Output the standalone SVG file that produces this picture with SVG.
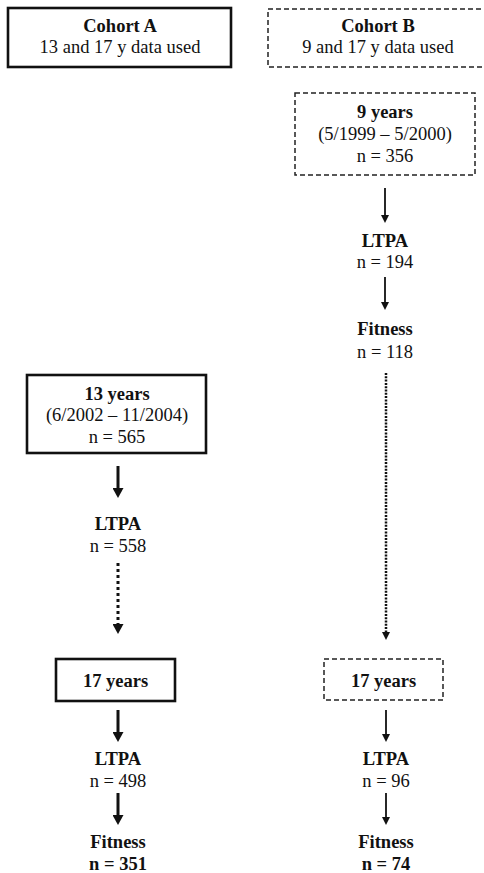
<svg xmlns="http://www.w3.org/2000/svg" width="484" height="873" viewBox="0 0 484 873">
<style>
  text { font-family: "Liberation Serif", "Times New Roman", serif; font-size: 18.5px; fill: #111; text-anchor: middle; }
  .b { font-weight: bold; }
  .solid { fill: #fff; stroke: #111; stroke-width: 2.6; }
  .dash { fill: #fff; stroke: #222; stroke-width: 1.5; stroke-dasharray: 5 3; }
  .thick { stroke: #111; stroke-width: 3; fill: none; }
  .thin { stroke: #111; stroke-width: 1.8; fill: none; }
  .dotA { stroke: #111; stroke-width: 3; stroke-dasharray: 3 3; fill: none; }
  .dotB { stroke: #111; stroke-width: 2.5; stroke-dasharray: 2 1.3; fill: none; }
</style>
<defs>
  <marker id="hThick" markerUnits="userSpaceOnUse" markerWidth="10" markerHeight="11" viewBox="0 0 10 11" refX="0" refY="5.5" orient="auto">
    <path d="M0,0 L10,5.5 L0,11 z" fill="#111"/>
  </marker>
  <marker id="hThin" markerUnits="userSpaceOnUse" markerWidth="8" markerHeight="8" viewBox="0 0 8 8" refX="0" refY="4" orient="auto">
    <path d="M0,0 L8,4 L0,8 z" fill="#111"/>
  </marker>
</defs>

<g id="cohortA">
  <rect class="solid" x="8" y="8" width="223" height="59"/>
  <text class="b" x="120" y="32">Cohort A</text>
  <text x="120" y="53">13 and 17 y data used</text>
</g>
<g id="cohortB">
  <rect class="dash" x="268" y="9" width="222" height="58"/>
  <text class="b" x="378" y="32">Cohort B</text>
  <text x="378" y="53">9 and 17 y data used</text>
</g>
<g id="b9years">
  <rect class="dash" x="295" y="93" width="180" height="82"/>
  <text class="b" x="385" y="118">9 years</text>
  <text x="385" y="140">(5/1999 – 5/2000)</text>
  <text x="385" y="162">n = 356</text>
</g>
<g id="bLTPA9">
  <text class="b" x="385" y="247">LTPA</text>
  <text x="385" y="268">n = 194</text>
</g>
<g id="bFitness9">
  <text class="b" x="385" y="335">Fitness</text>
  <text x="385" y="358">n = 118</text>
</g>
<g id="a13years">
  <rect class="solid" x="27" y="375" width="179" height="78"/>
  <text class="b" x="117" y="400">13 years</text>
  <text x="117" y="421">(6/2002 – 11/2004)</text>
  <text x="117" y="443">n = 565</text>
</g>
<g id="aLTPA13">
  <text class="b" x="118" y="530">LTPA</text>
  <text x="118" y="552">n = 558</text>
</g>
<g id="a17years">
  <rect class="solid" x="56" y="659" width="119" height="42"/>
  <text class="b" x="115.5" y="687">17 years</text>
</g>
<g id="b17years">
  <rect class="dash" x="324" y="659" width="119" height="41"/>
  <text class="b" x="383.5" y="687">17 years</text>
</g>
<g id="aLTPA17">
  <text class="b" x="118" y="765">LTPA</text>
  <text x="118" y="787">n = 498</text>
</g>
<g id="aFitness17">
  <text class="b" x="118" y="848">Fitness</text>
  <text class="b" x="118" y="870">n = 351</text>
</g>
<g id="bLTPA17">
  <text class="b" x="386" y="765">LTPA</text>
  <text x="386" y="787">n = 96</text>
</g>
<g id="bFitness17">
  <text class="b" x="386" y="848">Fitness</text>
  <text class="b" x="386" y="870">n = 74</text>
</g>

<g id="connectors">
  <line class="thick" x1="118" y1="466" x2="118" y2="488" marker-end="url(#hThick)"/>
  <line class="dotA" x1="118" y1="563" x2="118" y2="624" marker-end="url(#hThick)"/>
  <line class="thick" x1="118" y1="710" x2="118" y2="732" marker-end="url(#hThick)"/>
  <line class="thick" x1="118" y1="793" x2="118" y2="815" marker-end="url(#hThick)"/>
  <line class="thin" x1="385" y1="188" x2="385" y2="215" marker-end="url(#hThin)"/>
  <line class="thin" x1="385" y1="277" x2="385" y2="302" marker-end="url(#hThin)"/>
  <line class="dotB" x1="386" y1="373" x2="386" y2="632" marker-end="url(#hThin)"/>
  <line class="thin" x1="386" y1="710" x2="386" y2="734" marker-end="url(#hThin)"/>
  <line class="thin" x1="386" y1="793" x2="386" y2="817" marker-end="url(#hThin)"/>
</g>
</svg>
